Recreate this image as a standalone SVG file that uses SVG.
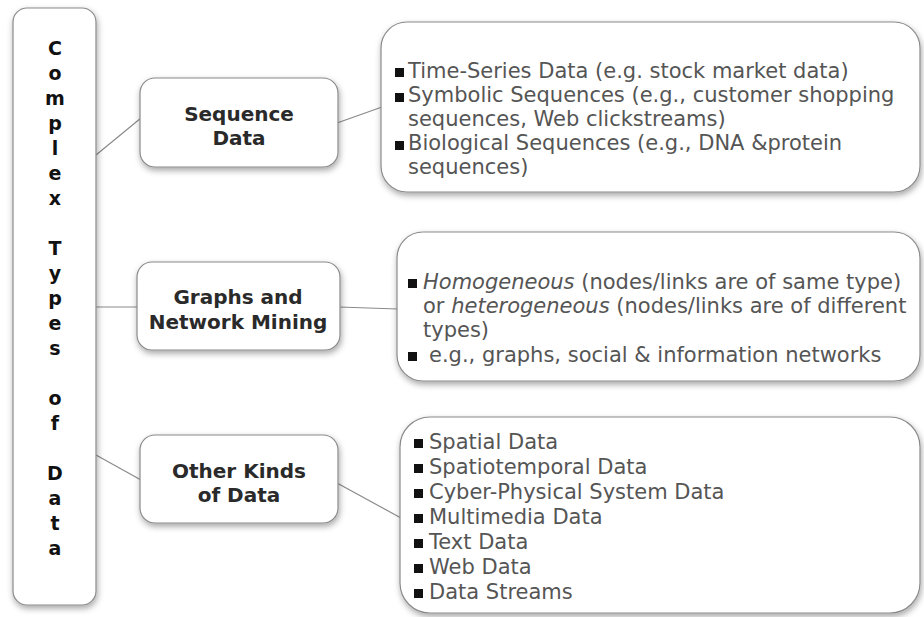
<svg xmlns="http://www.w3.org/2000/svg" width="924" height="617" viewBox="0 0 924 617">
<defs>
<filter id="sh" x="-10%" y="-10%" width="125%" height="125%">
<feDropShadow dx="1" dy="3" stdDeviation="3" flood-color="#000" flood-opacity="0.35"/>
</filter>
</defs>
<style>
.box{fill:#fff;stroke:#8a8a8a;stroke-width:1.2;filter:url(#sh)}
.nt{font-family:"DejaVu Sans",Verdana,sans-serif;font-weight:bold;font-size:20px;fill:#2a2a2a;text-anchor:middle}
.vt{font-family:"DejaVu Sans",Verdana,sans-serif;font-weight:bold;font-size:19px;fill:#111;text-anchor:middle}
.lt{font-family:"DejaVu Sans",Verdana,sans-serif;font-size:21px;fill:#555}
.bl{fill:#111}
.cn{stroke:#8a8a8a;stroke-width:1.2;fill:none}
</style>
<rect width="924" height="617" fill="#fff"/>
<g id="connectors">
<line class="cn" x1="96" y1="155" x2="141" y2="118"/>
<line class="cn" x1="96" y1="307" x2="138" y2="307"/>
<line class="cn" x1="96" y1="455" x2="141" y2="480"/>
<line class="cn" x1="337" y1="123" x2="382" y2="107"/>
<line class="cn" x1="339" y1="307" x2="398" y2="309"/>
<line class="cn" x1="337" y1="483" x2="401" y2="518"/>
</g>
<g id="complex-types">
<rect class="box" x="13" y="8" width="83" height="597" rx="14"/>
<text class="vt" x="55"><tspan x="55" y="55">C</tspan><tspan x="55" y="80">o</tspan><tspan x="55" y="105">m</tspan><tspan x="55" y="130">p</tspan><tspan x="55" y="155">l</tspan><tspan x="55" y="180">e</tspan><tspan x="55" y="205">x</tspan><tspan x="55" y="255">T</tspan><tspan x="55" y="280">y</tspan><tspan x="55" y="305">p</tspan><tspan x="55" y="330">e</tspan><tspan x="55" y="355">s</tspan><tspan x="55" y="405">o</tspan><tspan x="55" y="430">f</tspan><tspan x="55" y="480">D</tspan><tspan x="55" y="505">a</tspan><tspan x="55" y="530">t</tspan><tspan x="55" y="555">a</tspan></text>
</g>
<g id="sequence-data">
<rect class="box" x="140" y="78" width="198" height="89" rx="15"/>
<text class="nt"><tspan x="239" y="121">Sequence</tspan><tspan x="239" y="145">Data</tspan></text>
</g>
<g id="graphs">
<rect class="box" x="137" y="262" width="203" height="88" rx="15"/>
<text class="nt"><tspan x="238" y="304">Graphs and</tspan><tspan x="238" y="329">Network Mining</tspan></text>
</g>
<g id="other-kinds">
<rect class="box" x="140" y="435" width="198" height="88" rx="15"/>
<text class="nt"><tspan x="239" y="478">Other Kinds</tspan><tspan x="239" y="502">of Data</tspan></text>
</g>
<g id="sequence-list">
<rect class="box" x="381" y="22" width="539" height="170" rx="26"/>
<rect class="bl" x="395" y="68" width="9" height="9"/>
<rect class="bl" x="395" y="93" width="9" height="9"/>
<rect class="bl" x="395" y="141" width="9" height="9"/>
<text class="lt"><tspan x="408" y="78">Time-Series Data (e.g. stock market data)</tspan><tspan x="408" y="102">Symbolic Sequences (e.g., customer shopping</tspan><tspan x="408" y="126">sequences, Web clickstreams)</tspan><tspan x="408" y="150">Biological Sequences (e.g., DNA &amp;protein</tspan><tspan x="408" y="174">sequences)</tspan></text>
</g>
<g id="graphs-list">
<rect class="box" x="397" y="232" width="523" height="149" rx="26"/>
<rect class="bl" x="408" y="279" width="9" height="9"/>
<rect class="bl" x="408" y="352" width="9" height="9"/>
<text class="lt"><tspan x="423" y="289" font-style="italic">Homogeneous</tspan><tspan> (nodes/links are of same type)</tspan><tspan x="423" y="313">or </tspan><tspan font-style="italic">heterogeneous</tspan><tspan> (nodes/links are of different</tspan><tspan x="423" y="337">types)</tspan><tspan x="429" y="362">e.g., graphs, social &amp; information networks</tspan></text>
</g>
<g id="other-list">
<rect class="box" x="400" y="417" width="520" height="196" rx="30"/>
<rect class="bl" x="414" y="439" width="9" height="9"/>
<rect class="bl" x="414" y="464" width="9" height="9"/>
<rect class="bl" x="414" y="489" width="9" height="9"/>
<rect class="bl" x="414" y="514" width="9" height="9"/>
<rect class="bl" x="414" y="539" width="9" height="9"/>
<rect class="bl" x="414" y="564" width="9" height="9"/>
<rect class="bl" x="414" y="589" width="9" height="9"/>
<text class="lt"><tspan x="429" y="449">Spatial Data</tspan><tspan x="429" y="474">Spatiotemporal Data</tspan><tspan x="429" y="499">Cyber-Physical System Data</tspan><tspan x="429" y="524">Multimedia Data</tspan><tspan x="429" y="549">Text Data</tspan><tspan x="429" y="574">Web Data</tspan><tspan x="429" y="599">Data Streams</tspan></text>
</g>
</svg>
